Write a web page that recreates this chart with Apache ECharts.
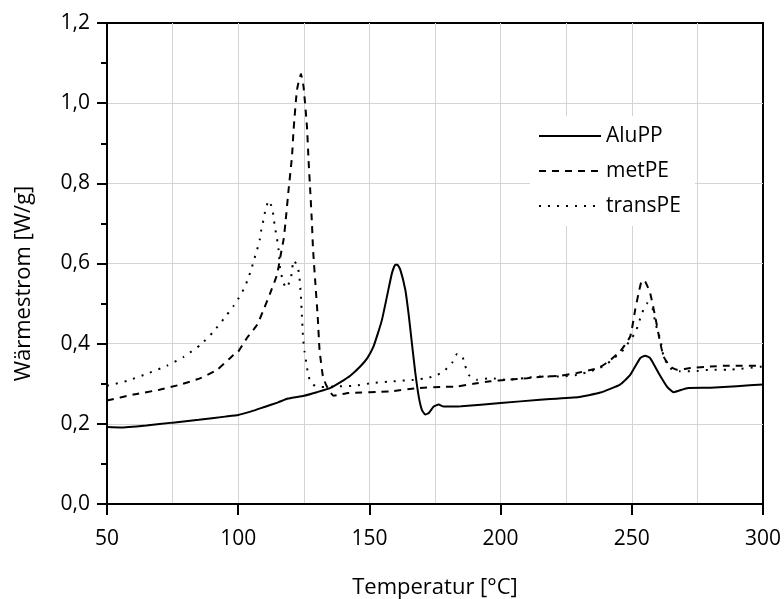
<!DOCTYPE html>
<html>
<head>
<meta charset="utf-8">
<script src="https://cdn.jsdelivr.net/npm/echarts@6/dist/echarts.min.js"></script>
<style>
  html, body { margin: 0; padding: 0; background: #fff; }
  #chart { width: 784px; height: 599px; }
</style>
</head>
<body>
<div id="chart"></div>
<script>
// DSC heat-flow curves (Wärmestrom over Temperatur)
const aluTemp = [50, 55, 65, 75, 85, 95, 100, 105, 110, 115, 119, 125, 130, 135, 139, 142.7, 146.5, 149.2, 151.5, 153.2, 154.8, 156.7, 158.6, 159.9, 160.7, 161.8, 163.7, 164.9, 166.2, 167.5, 168.8, 170, 171.3, 172.6, 174.5, 176.4, 178.3, 185, 200, 215, 230, 238, 245.5, 249.4, 253.2, 255.1, 257, 260.2, 263.4, 265.9, 271, 280, 290, 300];
const aluFlow = [0.192, 0.191, 0.196, 0.203, 0.21, 0.218, 0.222, 0.231, 0.242, 0.253, 0.263, 0.27, 0.279, 0.289, 0.304, 0.32, 0.343, 0.364, 0.392, 0.425, 0.46, 0.518, 0.576, 0.597, 0.597, 0.584, 0.534, 0.476, 0.401, 0.327, 0.268, 0.235, 0.223, 0.227, 0.243, 0.248, 0.243, 0.244, 0.252, 0.26, 0.267, 0.278, 0.298, 0.322, 0.364, 0.37, 0.364, 0.327, 0.293, 0.279, 0.289, 0.29, 0.294, 0.298];

const metTemp = [50, 60, 70, 78, 85.6, 92, 98.2, 100, 103.3, 107.2, 109.7, 112.2, 114.8, 116, 117.3, 118, 119.2, 120.5, 121.1, 122.4, 123.9, 124.9, 126.2, 126.8, 127.5, 128.1, 128.5, 129.4, 130.3, 131, 132.3, 133.8, 136.4, 142, 158, 168, 177, 183.4, 189.7, 196.1, 202.4, 210.1, 216.4, 222.8, 229.1, 235.4, 238, 241.2, 245.6, 249.4, 251.3, 252.6, 253.9, 255.1, 257, 258.9, 260.6, 262.1, 264.6, 267.2, 272.3, 280, 286.3, 300];
const metFlow = [0.258, 0.273, 0.285, 0.298, 0.314, 0.335, 0.372, 0.38, 0.414, 0.447, 0.485, 0.526, 0.572, 0.615, 0.66, 0.701, 0.784, 0.867, 0.933, 1.033, 1.073, 1.041, 0.942, 0.859, 0.776, 0.701, 0.638, 0.551, 0.468, 0.385, 0.318, 0.293, 0.27, 0.277, 0.281, 0.289, 0.292, 0.293, 0.3, 0.306, 0.31, 0.314, 0.318, 0.32, 0.327, 0.336, 0.342, 0.356, 0.381, 0.418, 0.485, 0.526, 0.558, 0.555, 0.526, 0.468, 0.41, 0.368, 0.343, 0.335, 0.339, 0.343, 0.345, 0.345];

const transTemp = [50, 57.6, 65.2, 72.9, 79.2, 85.6, 90.6, 95.7, 98.2, 100.2, 102.1, 103.6, 105, 106.1, 107.2, 108.2, 108.8, 109.7, 110.4, 111.6, 113, 113.5, 114.1, 114.8, 115.4, 116, 117, 118.1, 119.9, 120.5, 121.1, 122.6, 123.3, 123.9, 124.3, 124.7, 125.3, 126.2, 126.8, 128.4, 131.3, 136.4, 144, 151.6, 159.2, 166.8, 172, 175.8, 178.3, 181.5, 183.4, 185.3, 186.5, 187.8, 191, 196.1, 202.4, 208.8, 215.1, 222.8, 229.1, 234.2, 238, 241.8, 246.9, 249.4, 251.3, 252.6, 253.9, 255.8, 257.7, 259, 260.9, 262.1, 264.6, 268.4, 273.5, 279.9, 286.3, 300];
const transFlow = [0.295, 0.307, 0.325, 0.345, 0.367, 0.397, 0.43, 0.472, 0.494, 0.514, 0.536, 0.559, 0.586, 0.611, 0.634, 0.659, 0.684, 0.711, 0.734, 0.757, 0.738, 0.713, 0.687, 0.661, 0.634, 0.584, 0.559, 0.539, 0.557, 0.583, 0.608, 0.594, 0.568, 0.518, 0.468, 0.416, 0.38, 0.342, 0.318, 0.298, 0.292, 0.293, 0.295, 0.302, 0.306, 0.31, 0.314, 0.322, 0.331, 0.352, 0.374, 0.37, 0.345, 0.322, 0.31, 0.314, 0.31, 0.314, 0.318, 0.318, 0.322, 0.331, 0.34, 0.356, 0.385, 0.41, 0.426, 0.451, 0.476, 0.501, 0.493, 0.451, 0.41, 0.368, 0.339, 0.331, 0.331, 0.335, 0.335, 0.343];

const seriesNames = ['AluPP', 'metPE', 'transPE'];
const xTitle = 'Temperatur [°C]';
const yTitle = 'Wärmestrom [W/g]';

const FONT = 'Open Sans';
const pairs = (xs, ys) => xs.map((x, i) => [x, ys[i]]);

const chart = echarts.init(document.getElementById('chart'), null, { renderer: 'canvas' });

const gridColor = '#d4d4d4';

chart.setOption({
  animation: false,
  backgroundColor: '#fff',
  textStyle: { fontFamily: FONT, color: '#000' },
  grid: {
    left: 107, right: 21, top: 23, bottom: 95,
    outerBoundsMode: 'none', containLabel: false,
    show: true, borderColor: '#000', borderWidth: 2, backgroundColor: 'transparent'
  },
  legend: {
    orient: 'vertical',
    left: 530, top: 116,
    padding: [8, 14, 8, 8],
    backgroundColor: '#fff',
    itemWidth: 62, itemHeight: 14, itemGap: 11,
    itemStyle: { opacity: 0 },
    textStyle: { fontFamily: FONT, fontSize: 21, color: '#000', lineHeight: 24 },
    data: seriesNames
  },
  xAxis: {
    type: 'value', min: 50, max: 300, interval: 50,
    name: xTitle, nameLocation: 'middle', nameGap: 73,
    nameTextStyle: { fontFamily: FONT, fontSize: 22, color: '#000' },
    axisLine: { show: true, onZero: false, lineStyle: { color: '#000', width: 2 } },
    axisTick: { show: true, inside: false, length: 11, lineStyle: { color: '#000', width: 2 } },
    axisLabel: { fontFamily: FONT, fontSize: 21, color: '#000', margin: 25 },
    splitLine: { show: true, showMinLine: false, showMaxLine: false, lineStyle: { color: gridColor, width: 1 } },
    minorTick: { show: false, splitNumber: 2 },
    minorSplitLine: { show: true, lineStyle: { color: gridColor, width: 1 } }
  },
  yAxis: {
    type: 'value', min: 0, max: 1.2, interval: 0.2,
    name: yTitle, nameLocation: 'middle', nameGap: 72, nameRotate: 90,
    nameTextStyle: { fontFamily: FONT, fontSize: 22, color: '#000', padding: [0, 40, 0, 0] },
    axisLine: { show: true, onZero: false, lineStyle: { color: '#000', width: 2 } },
    axisTick: { show: true, inside: false, length: 10, lineStyle: { color: '#000', width: 2 } },
    minorTick: { show: true, splitNumber: 2, length: 6, lineStyle: { color: '#000', width: 2 } },
    axisLabel: {
      fontFamily: FONT, fontSize: 21, color: '#000', margin: 17,
      formatter: v => v.toFixed(1).replace('.', ',')
    },
    splitLine: { show: true, showMinLine: false, showMaxLine: false, lineStyle: { color: gridColor, width: 1 } }
  },
  series: [
    {
      name: seriesNames[0], type: 'line', data: pairs(aluTemp, aluFlow),
      symbol: 'none', smooth: 0.15,
      lineStyle: { color: '#000', width: 2, type: 'solid' },
      itemStyle: { color: '#000' }
    },
    {
      name: seriesNames[1], type: 'line', data: pairs(metTemp, metFlow),
      symbol: 'none', smooth: 0.15,
      lineStyle: { color: '#000', width: 2, type: [7, 6] },
      itemStyle: { color: '#000' }
    },
    {
      name: seriesNames[2], type: 'line', data: pairs(transTemp, transFlow),
      symbol: 'none', smooth: 0.15,
      lineStyle: { color: '#000', width: 2, type: [2, 7] },
      itemStyle: { color: '#000' }
    }
  ]
});
</script>
</body>
</html>
